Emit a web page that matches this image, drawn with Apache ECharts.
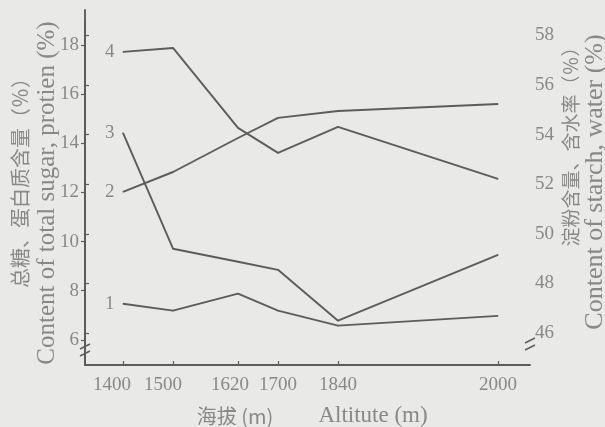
<!DOCTYPE html>
<html>
<head>
<meta charset="utf-8">
<script src="https://cdn.jsdelivr.net/npm/echarts@6/dist/echarts.min.js"></script>
<style>
  html, body { margin: 0; padding: 0; background: #e9e9e7; }
  #chart { width: 605px; height: 427px; }
</style>
</head>
<body>
<div id="chart"></div>
<script>
// altitude labels and where they sit along the (non-linear) x axis of the figure
const altitudes = ['1400', '1500', '1620', '1700', '1840', '2000']
const altitudePos = [38, 88, 153, 193, 253, 413]

// left axis: total sugar, protein (%)
const leftTicks = [6, 8, 10, 12, 14, 16, 18]
const curve1 = [7.47, 7.19, 7.88, 7.19, 6.58, 6.98]
const curve3 = [14.42, 9.71, 9.18, 8.85, 6.78, 9.46]

// right axis: starch, water (%)
const rightTicks = [46, 48, 50, 52, 54, 56, 58]
const curve2 = [51.69, 52.49, 53.86, 54.67, 54.95, 55.23]
const curve4 = [57.33, 57.49, 54.27, 53.26, 54.31, 52.21]

const ink = '#5c5c5c'
const textGray = '#888888'
const bg = '#e9e9e7'
const serif = '"Liberation Serif", "DejaVu Serif", serif'
const cjk = '"Noto Sans CJK SC", sans-serif'

const chart = echarts.init(document.getElementById('chart'))

function buildData (values, name) {
  return values.map((v, i) => {
    const item = { value: [altitudePos[i], v] }
    if (i === 0) {
      item.label = {
        show: true,
        position: 'left',
        distance: 8,
        formatter: name,
        fontFamily: serif,
        fontSize: 19,
        color: textGray
      }
    }
    return item
  })
}

function makeSeries (name, values, idx) {
  return {
    name: name,
    type: 'line',
    xAxisIndex: idx,
    yAxisIndex: idx,
    data: buildData(values, name),
    symbol: 'circle',
    symbolSize: 1,
    showSymbol: true,
    itemStyle: { color: ink },
    lineStyle: { color: ink, width: 1.9 },
    label: { show: false },
    emphasis: { disabled: true }
  }
}

const xBase = {
  type: 'value',
  min: 0,
  max: 445,
  axisLine: { lineStyle: { color: ink, width: 1.9 } },
  splitLine: { show: false }
}

// the first labels in the print sit a little left of their ticks
const labelShift = { '1400': 11, '1500': 10, '1620': 8 }

const breakMark = (x, y) => ({
  type: 'group',
  x: x,
  y: y,
  children: [
    { type: 'rect', shape: { x: -3, y: -3, width: 6, height: 6 }, style: { fill: bg } },
    { type: 'line', shape: { x1: -5, y1: -1, x2: 5, y2: -6 }, style: { stroke: ink, lineWidth: 1.4 } },
    { type: 'line', shape: { x1: -5, y1: 6, x2: 5, y2: 1 }, style: { stroke: ink, lineWidth: 1.4 } }
  ]
})

const option = {
  backgroundColor: bg,
  animation: false,
  grid: [
    { left: 85, right: 75, top: 22, bottom: 62 },
    { left: 85, right: 75, top: 10, bottom: 62 }
  ],
  xAxis: [
    Object.assign({}, xBase, {
      gridIndex: 0,
      axisTick: {
        show: true,
        inside: true,
        length: 4,
        customValues: altitudePos,
        lineStyle: { color: ink, width: 1.2 }
      },
      axisLabel: {
        customValues: altitudePos,
        formatter: function (val) {
          const i = altitudePos.indexOf(val)
          if (i < 0) return ''
          const txt = altitudes[i]
          return labelShift[txt] ? '{s' + labelShift[txt] + '|' + txt + '}' : txt
        },
        rich: {
          s11: { padding: [0, 22, 0, 0], fontFamily: serif, fontSize: 19, color: textGray },
          s10: { padding: [0, 20, 0, 0], fontFamily: serif, fontSize: 19, color: textGray },
          s8: { padding: [0, 16, 0, 0], fontFamily: serif, fontSize: 19, color: textGray }
        },
        margin: 11,
        fontFamily: serif,
        fontSize: 19,
        color: textGray
      }
    }),
    Object.assign({}, xBase, {
      gridIndex: 1,
      show: false
    })
  ],
  yAxis: [
    {
      type: 'value',
      gridIndex: 0,
      position: 'left',
      min: 4.98,
      max: 18.93,
      axisLine: { show: true, lineStyle: { color: ink, width: 1.9 } },
      axisTick: { show: true, length: 4, customValues: leftTicks, lineStyle: { color: ink, width: 1.2 } },
      axisLabel: {
        customValues: leftTicks,
        margin: 6,
        fontFamily: serif,
        fontSize: 19,
        color: textGray
      },
      splitLine: { show: false }
    },
    {
      type: 'value',
      gridIndex: 1,
      position: 'right',
      min: 44.71,
      max: 59.02,
      axisLine: { show: true, lineStyle: { color: ink, width: 1.9 } },
      axisTick: { show: true, length: 4, customValues: rightTicks, lineStyle: { color: ink, width: 1.2 } },
      axisLabel: {
        customValues: rightTicks,
        margin: 5,
        fontFamily: serif,
        fontSize: 19,
        color: textGray
      },
      splitLine: { show: false }
    }
  ],
  series: [
    makeSeries('1', curve1, 0),
    makeSeries('3', curve3, 0),
    makeSeries('2', curve2, 1),
    makeSeries('4', curve4, 1)
  ],
  graphic: [
    breakMark(85, 350),
    breakMark(530, 344),
    {
      type: 'text', x: 20, y: 178, rotation: Math.PI / 2,
      style: { text: '总糖、蛋白质含量（％）', font: '20px ' + cjk, fill: textGray, align: 'center', verticalAlign: 'middle' }
    },
    {
      type: 'text', x: 47, y: 193, rotation: Math.PI / 2,
      style: { text: 'Content of total sugar, protien (%)', font: '25px ' + serif, fill: textGray, align: 'center', verticalAlign: 'middle' }
    },
    {
      type: 'text', x: 571, y: 142, rotation: Math.PI / 2,
      style: { text: '淀粉含量、含水率（％）', font: '19px ' + cjk, fill: textGray, align: 'center', verticalAlign: 'middle' }
    },
    {
      type: 'text', x: 595, y: 182, rotation: Math.PI / 2,
      style: { text: 'Content of starch, water (%)', font: '26px ' + serif, fill: textGray, align: 'center', verticalAlign: 'middle' }
    },
    {
      type: 'text', x: 235, y: 416,
      style: { text: '海拔 (m)', font: '20px ' + cjk, fill: textGray, align: 'center', verticalAlign: 'middle' }
    },
    {
      type: 'text', x: 373, y: 416,
      style: { text: 'Altitute (m)', font: '23px ' + serif, fill: textGray, align: 'center', verticalAlign: 'middle' }
    }
  ]
}

chart.setOption(option)
</script>
</body>
</html>
